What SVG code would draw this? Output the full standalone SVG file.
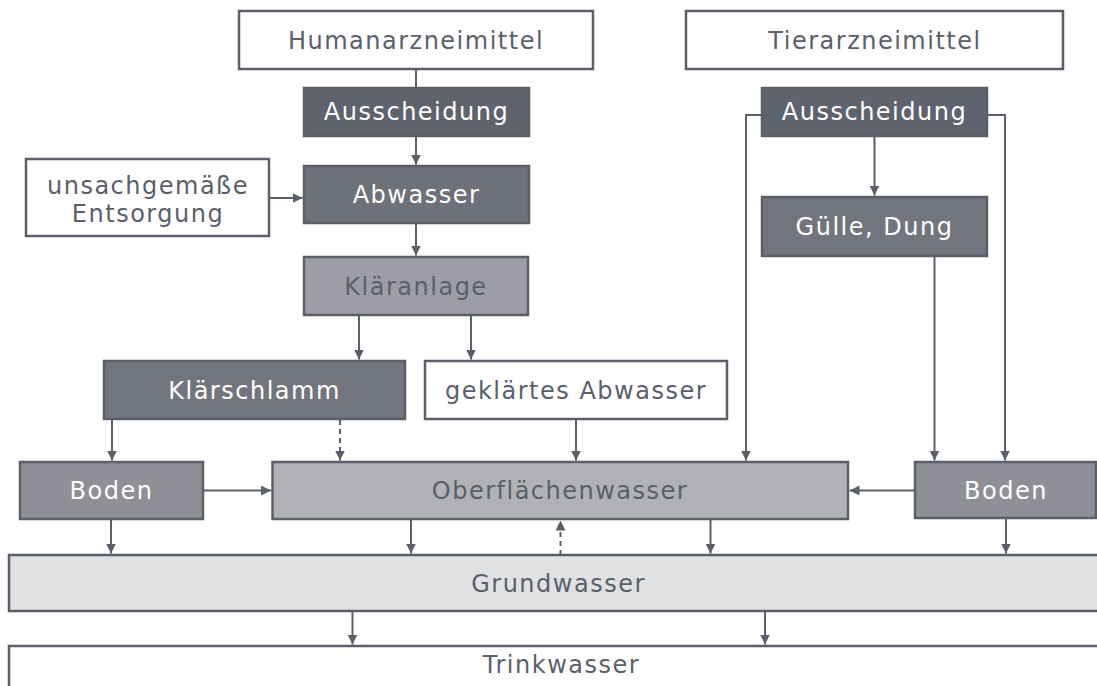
<svg xmlns="http://www.w3.org/2000/svg" width="1097" height="686" viewBox="0 0 1097 686">
<defs>
<style>
.box{stroke:#5b5f69;stroke-width:2.5}
.w{fill:#ffffff}
.d1{fill:#5f636d}
.d2{fill:#6e717a}
.d3{fill:#72757e}
.d4{fill:#8e8f97}
.d5{fill:#9d9ea5}
.d6{fill:#b1b2b6}
.d7{fill:#e0e1e3}
text{font-family:"DejaVu Sans","Liberation Sans",sans-serif;font-size:24px;letter-spacing:1.5px;text-anchor:middle}
.tl{fill:#ffffff}
.td{fill:#5a5f69}
.c{fill:none;stroke:#5b5f69;stroke-width:2}
.dash{stroke-dasharray:5 4}
</style>
<marker id="ah" viewBox="0 0 10 10" refX="10" refY="5" markerWidth="10" markerHeight="10" markerUnits="userSpaceOnUse" orient="auto">
<path d="M0,0 L10,5 L0,10 z" fill="#5b5f69"/>
</marker>
</defs>
<rect width="1097" height="686" fill="#ffffff"/>
<g id="connectors">
<line class="c" x1="416" y1="69" x2="416" y2="88"/>
<line class="c" x1="416" y1="136" x2="416" y2="164.5" marker-end="url(#ah)"/>
<line class="c" x1="269" y1="198" x2="302.5" y2="198" marker-end="url(#ah)"/>
<line class="c" x1="416" y1="223" x2="416" y2="255.5" marker-end="url(#ah)"/>
<line class="c" x1="359" y1="315" x2="359" y2="359.5" marker-end="url(#ah)"/>
<line class="c" x1="471" y1="315" x2="471" y2="359.5" marker-end="url(#ah)"/>
<line class="c" x1="112" y1="419" x2="112" y2="460.5" marker-end="url(#ah)"/>
<line class="c dash" x1="340" y1="420" x2="340" y2="460.5" marker-end="url(#ah)"/>
<line class="c" x1="576" y1="419" x2="576" y2="460.5" marker-end="url(#ah)"/>
<polyline class="c" points="762,115 746,115 746,460.5" marker-end="url(#ah)"/>
<polyline class="c" points="987,115 1005,115 1005,460.5" marker-end="url(#ah)"/>
<line class="c" x1="874.5" y1="136" x2="874.5" y2="195.5" marker-end="url(#ah)"/>
<line class="c" x1="934.5" y1="256" x2="934.5" y2="460.5" marker-end="url(#ah)"/>
<line class="c" x1="203" y1="490.5" x2="271" y2="490.5" marker-end="url(#ah)"/>
<line class="c" x1="915" y1="490.5" x2="849.5" y2="490.5" marker-end="url(#ah)"/>
<line class="c" x1="111" y1="519" x2="111" y2="553.5" marker-end="url(#ah)"/>
<line class="c" x1="411" y1="519" x2="411" y2="553.5" marker-end="url(#ah)"/>
<line class="c" x1="710.5" y1="519" x2="710.5" y2="553.5" marker-end="url(#ah)"/>
<line class="c" x1="1006" y1="518" x2="1006" y2="553.5" marker-end="url(#ah)"/>
<line class="c dash" x1="560.5" y1="555" x2="560.5" y2="520.5" marker-end="url(#ah)"/>
<line class="c" x1="352.5" y1="611" x2="352.5" y2="644.5" marker-end="url(#ah)"/>
<line class="c" x1="765" y1="611" x2="765" y2="644.5" marker-end="url(#ah)"/>
</g>
<g id="humanarzneimittel">
<rect class="box w" x="239" y="11" width="354" height="58"/>
<text class="td" x="416" y="48.5">Humanarzneimittel</text>
</g>
<g id="tierarzneimittel">
<rect class="box w" x="686" y="11" width="377" height="58"/>
<text class="td" x="875" y="48.5">Tierarzneimittel</text>
</g>
<g id="ausscheidung-human">
<rect class="box d1" x="304" y="88" width="225" height="48"/>
<text class="tl" x="416.5" y="120">Ausscheidung</text>
</g>
<g id="abwasser">
<rect class="box d2" x="304" y="166" width="225" height="57"/>
<text class="tl" x="416.5" y="203">Abwasser</text>
</g>
<g id="entsorgung">
<rect class="box w" x="26" y="159" width="243" height="77"/>
<text class="td" x="148" y="194">unsachgemäße</text>
<text class="td" x="148" y="222">Entsorgung</text>
</g>
<g id="klaeranlage">
<rect class="box d5" x="304" y="257" width="224" height="58"/>
<text class="td" x="416" y="295">Kläranlage</text>
</g>
<g id="klaerschlamm">
<rect class="box d3" x="104" y="361" width="301" height="58"/>
<text class="tl" x="254.5" y="399">Klärschlamm</text>
</g>
<g id="geklaertes-abwasser">
<rect class="box w" x="425" y="361" width="302" height="58"/>
<text class="td" x="576" y="399">geklärtes Abwasser</text>
</g>
<g id="ausscheidung-tier">
<rect class="box d1" x="762" y="88" width="225" height="48"/>
<text class="tl" x="874.5" y="120">Ausscheidung</text>
</g>
<g id="guelle-dung">
<rect class="box d3" x="762" y="197" width="225" height="59"/>
<text class="tl" x="874.5" y="235">Gülle, Dung</text>
</g>
<g id="boden-links">
<rect class="box d4" x="20" y="462" width="183" height="57"/>
<text class="tl" x="111.5" y="499">Boden</text>
</g>
<g id="oberflaechenwasser">
<rect class="box d6" x="272.5" y="462" width="575.5" height="57"/>
<text class="td" x="560" y="499">Oberflächenwasser</text>
</g>
<g id="boden-rechts">
<rect class="box d4" x="915" y="462" width="181" height="56"/>
<text class="tl" x="1006" y="499">Boden</text>
</g>
<g id="grundwasser">
<rect class="box d7" x="9" y="555" width="1101" height="56"/>
<text class="td" x="558.5" y="592">Grundwasser</text>
</g>
<g id="trinkwasser">
<rect class="box w" x="9" y="646" width="1101" height="60"/>
<text class="td" x="561.5" y="673">Trinkwasser</text>
</g>
</svg>
